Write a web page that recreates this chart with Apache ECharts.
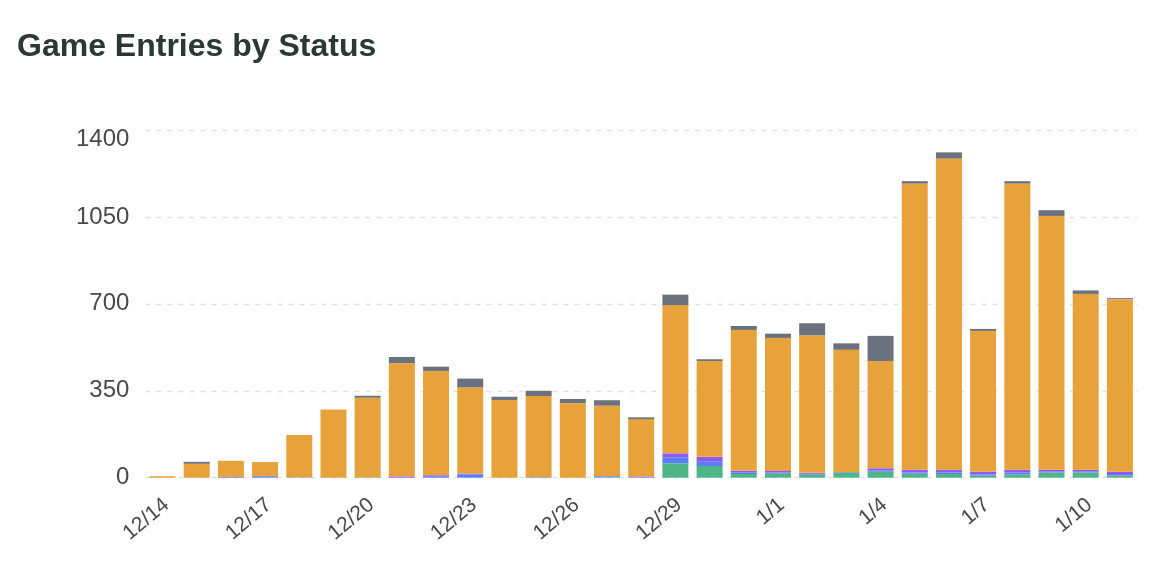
<!DOCTYPE html>
<html>
<head>
<meta charset="utf-8">
<script src="https://cdn.jsdelivr.net/npm/echarts@6/dist/echarts.min.js"></script>
<style>
  html, body { margin: 0; padding: 0; background: #ffffff; }
  #chart { width: 1162px; height: 568px; }
</style>
</head>
<body>
<div id="chart"></div>
<script>
const categories = ['12/14','12/15','12/16','12/17','12/18','12/19','12/20','12/21','12/22','12/23','12/24','12/25','12/26','12/27','12/28','12/29','12/30','12/31','1/1','1/2','1/3','1/4','1/5','1/6','1/7','1/8','1/9','1/10','1/11'];
const greenValues  = [0,0,0,0,1,0,2,0,0,0,0,1,0,1,0,58,47,15,16,12,21,24,16,15,8,13,21,21,9];
const blueValues   = [0,0,3,6,1,0,0,0,6,13,0,2,0,5,2,24,17,7,5,4,2,5,5,6,5,8,3,3,2];
const purpleValues = [0,0,0,0,0,0,0,5,4,4,0,0,0,0,3,16,20,6,6,4,0,9,11,11,11,11,8,8,13];
const orangeValues = [6,56,65,57,170,275,320,456,420,347,313,326,300,284,231,597,386,567,536,553,492,432,1152,1253,567,1152,1022,708,695];
const grayValues   = [0,8,0,0,0,0,8,25,17,35,13,21,17,22,7,42,7,16,17,49,26,101,10,25,8,10,23,14,4];
const yTicks = [0, 350, 700, 1050, 1400];

const font = '"Liberation Sans", Helvetica, Arial, sans-serif';
const chart = echarts.init(document.getElementById('chart'), null, { renderer: 'canvas' });

function mk(name, data, color) {
  return { name, type: 'bar', stack: 'total', data, barCategoryGap: '24%',
           itemStyle: { color }, emphasis: { disabled: true } };
}

const yMax = yTicks[yTicks.length - 1];

chart.setOption({
  animation: false,
  backgroundColor: '#ffffff',
  title: {
    text: 'Game Entries by Status',
    left: 17, top: 31, padding: 0,
    textStyle: { fontFamily: font, fontSize: 32, fontWeight: 'bold', color: '#2c3833' }
  },
  grid: { left: 145.4, right: 25, top: 130, bottom: 90.3, containLabel: false },
  xAxis: {
    type: 'category',
    data: categories,
    axisLine: { show: false },
    axisTick: { show: false },
    axisLabel: {
      interval: 2, rotate: 40, margin: 20,
      formatter: v => '{x|' + v + '}',
      rich: { x: { fontSize: 21, fontFamily: font, color: '#4a4a4a', padding: [12, 0, 0, 0] } }
    }
  },
  yAxis: {
    type: 'value',
    min: yTicks[0], max: yMax, interval: 350,
    axisLine: { show: false },
    axisTick: { show: false },
    splitLine: { lineStyle: { type: [5, 6], color: '#e2e2e2', width: 1.4 } },
    axisLabel: {
      margin: 16,
      formatter: v => (v === yMax ? '{t|' + v + '}' : '{n|' + v + '}'),
      rich: {
        n: { fontSize: 24, fontFamily: font, color: '#4a4a4a' },
        t: { fontSize: 24, fontFamily: font, color: '#4a4a4a', padding: [18, 0, 0, 0] }
      }
    }
  },
  series: [
    mk('Green', greenValues, '#4db586'),
    mk('Blue', blueValues, '#5b7ef6'),
    mk('Purple', purpleValues, '#8a5cf5'),
    mk('Orange', orangeValues, '#e8a23c'),
    mk('Gray', grayValues, '#6c727d')
  ]
});
</script>
</body>
</html>
